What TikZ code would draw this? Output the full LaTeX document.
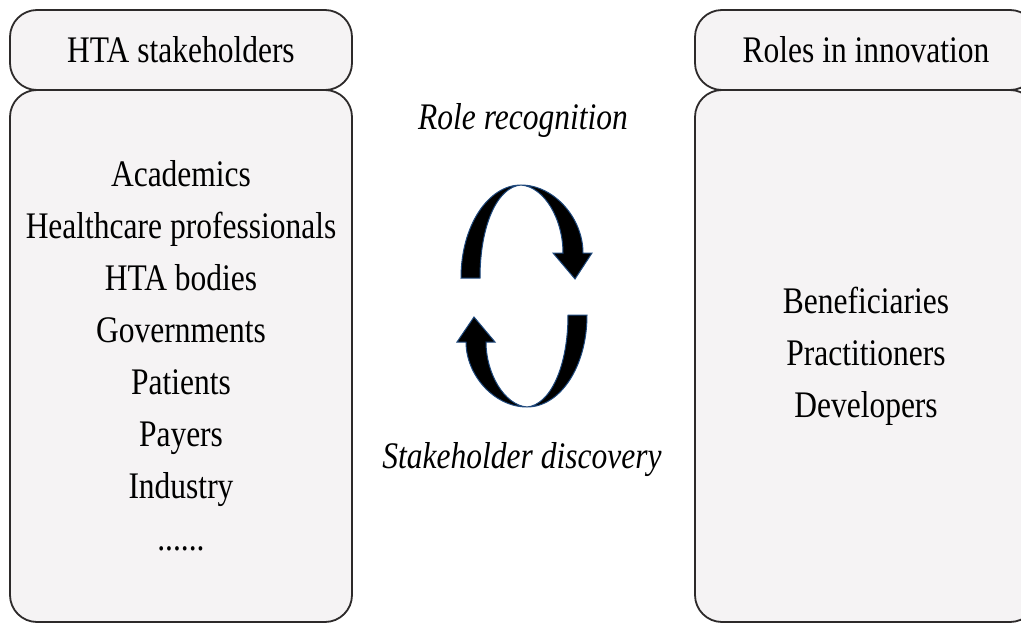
\documentclass[tikz,border=0pt]{standalone}
\usepackage{fontspec}
\setmainfont{Liberation Serif}[FakeStretch=0.84]
\usepackage{tikz}
\usetikzlibrary{positioning}
\definecolor{htafill}{RGB}{245,243,244}
\definecolor{htaline}{RGB}{45,42,42}
\definecolor{htablue}{RGB}{31,73,125}

\begin{document}
\begin{tikzpicture}[x=1pt, y=-1pt,
  box/.style={draw=htaline, fill=htafill, line width=1.8pt, rounded corners=27pt,
              minimum width=342pt, align=center, inner sep=0pt,
              font=\fontsize{37.5}{52}\selectfont},
  cycarrow/.style={fill=black, draw=htablue, line width=1pt, line join=miter}]
  \clip (0,0) rectangle (1021,624);
  % Box 1: HTA stakeholders
  \node[box, minimum height=80pt] (lhead) at (181,50) {HTA stakeholders};
  \node[box, minimum height=532pt] (lbody) at (181,356)
    {Academics\\Healthcare professionals\\HTA bodies\\Governments\\Patients\\Payers\\Industry\\......};
  % Box 2: Roles in innovation
  \node[box, minimum height=80pt] (rhead) at (866,50) {Roles in innovation};
  \node[box, minimum height=532pt] (rbody) at (866,356)
    {Beneficiaries\\Practitioners\\Developers};

  % Cycle labels
  \node[anchor=base, font=\fontsize{37.5}{42}\selectfont\itshape] (recog) at (523,129)
    {Role recognition};
  \node[anchor=base, font=\fontsize{37.5}{42}\selectfont\itshape] (discov) at (522,468)
    {Stakeholder discovery};

  % Upper cycle arrow
  \filldraw[cycarrow] (461,278) .. controls (461,226) and (488,185) .. (521,185)
    .. controls (554,185) and (583,218) .. (583,253) -- (592,253) -- (575,279)
    -- (553,253) -- (563,253) .. controls (563,220) and (545,187) .. (521,185)
    .. controls (497,187) and (480,226) .. (480,278) -- cycle;
  % Lower cycle arrow
  \filldraw[cycarrow] (587,315) .. controls (587,367) and (560,407) .. (527,407)
    .. controls (494,407) and (466,375) .. (466,342) -- (457,342) -- (474,317)
    -- (495,342) -- (486,342) .. controls (486,373) and (504,405) .. (527,407)
    .. controls (550,405) and (568,367) .. (568,315) -- cycle;
\end{tikzpicture}
\end{document}
